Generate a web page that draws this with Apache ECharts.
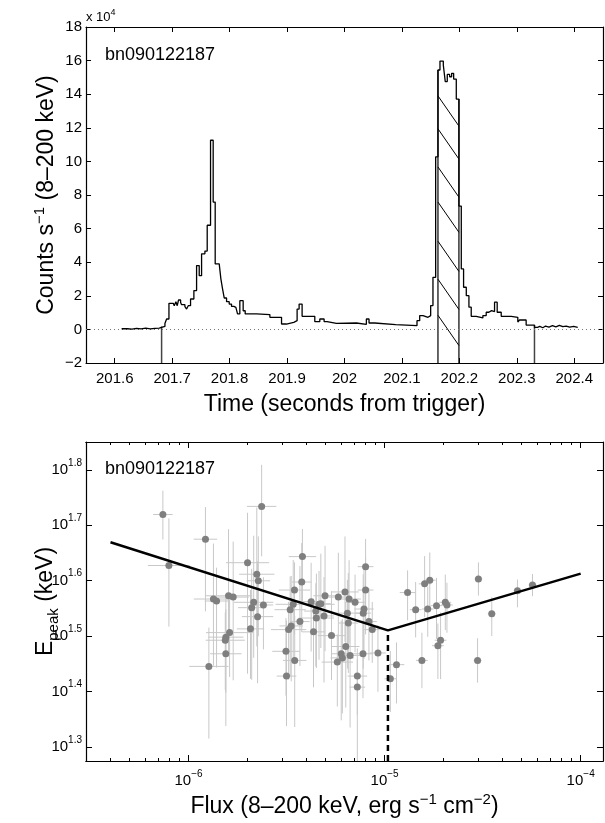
<!DOCTYPE html>
<html><head><meta charset="utf-8">
<script src="https://cdn.jsdelivr.net/npm/echarts@6/dist/echarts.min.js"></script>
<style>html,body{margin:0;padding:0;background:#fff;}#c{width:605px;height:823px;}</style>
</head><body><div id="c"></div>
<script>
// ===== Top panel: light curve (rate in units of 1e4 counts/s) =====
const lcTime = [201.612,201.622,201.630,201.638,201.646,201.654,201.662,201.670,201.6775,201.6816,
 201.6874,201.6903,201.6944,201.7019,201.7036,201.7065,201.7088,201.7111,201.7147,201.7164,
 201.7222,201.7251,201.7280,201.7320,201.7378,201.7425,201.7471,201.7512,201.7570,201.7610,
 201.7668,201.7714,201.7749,201.7819,201.7848,201.7877,201.7906,201.7947,201.7993,201.8033,
 201.8074,201.8109,201.8138,201.8178,201.8236,201.8271,201.8469,201.8701,201.8904,201.8990,
 201.9117,201.9175,201.9210,201.9262,201.9483,201.9570,201.9645,201.9697,201.9859,202.0207,
 202.0381,202.0427,202.0526,202.0891,202.1262,202.1309,202.1367,202.1454,202.1500,202.1540,
 202.1587,202.1627,202.1662,202.1720,202.1754,202.1789,202.1830,202.1865,202.1900,202.1946,
 202.1992,202.2033,202.2073,202.2120,202.2166,202.2206,202.2293,202.2409,202.2467,202.2513,
 202.2560,202.2612,202.2658,202.2728,202.2902,202.3017,202.3046,202.3162,202.3307,202.3360,
 202.3400,202.3452,202.3500,202.3560,202.3620,202.3680,202.3740,202.3800,202.3860,202.3920,
 202.3990,202.4060];
const lcRate = [0.04,0.02,0.06,0.03,0.07,0.03,0.06,0.08,0.12,0.18,
 0.35,0.62,1.55,1.60,1.41,1.65,1.41,1.75,1.60,1.47,
 1.35,1.21,1.41,1.81,2.31,3.80,3.20,4.50,4.66,6.20,
 11.26,7.58,3.90,3.80,3.01,2.41,1.87,1.65,1.51,1.37,
 1.31,1.37,0.92,1.71,1.11,0.92,0.88,0.72,0.32,0.42,
 0.52,1.21,1.51,0.78,0.46,0.62,0.46,0.36,0.38,0.30,
 0.62,0.38,0.28,0.22,0.52,0.82,0.72,0.82,1.42,3.10,
 10.27,15.44,15.97,15.74,14.75,15.18,15.04,15.24,14.90,13.71,
 7.34,3.60,2.51,2.01,1.32,0.78,0.68,0.82,1.02,1.12,
 1.06,1.62,1.02,0.78,0.72,0.44,0.56,0.26,0.12,0.18,
 0.10,0.20,0.14,0.22,0.15,0.24,0.16,0.20,0.13,0.18,
 0.12,0.12];
const timeTicks = [201.6,201.7,201.8,201.9,202.0,202.1,202.2,202.3,202.4];
const bkgBounds = [201.6816, 202.3307];
const bkgTops = [0.18, 0.26];
const srcBounds = [202.1627, 202.1992];
const srcTops = [15.44, 13.71];
const hatchStart = [13.9, 11.94, 9.67, 7.58, 5.25, 2.99, 0.84];
const hatchDrop = 1.8;

// ===== Bottom panel: Epeak vs flux =====
const flux = [7.40e-7,7.94e-7,1.22e-6,2.36e-6,2.00e-6,2.23e-6,2.27e-6,3.81e-6,3.78e-6,3.47e-6,
 4.97e-6,5.81e-6,6.28e-6,1.34e-6,1.39e-6,1.60e-6,1.69e-6,2.15e-6,2.10e-6,2.41e-6,
 2.25e-6,2.07e-6,1.62e-6,1.55e-6,1.54e-6,1.55e-6,1.27e-6,3.42e-6,3.30e-6,3.34e-6,
 3.24e-6,3.70e-6,3.14e-6,3.48e-6,3.16e-6,4.22e-6,4.63e-6,4.73e-6,4.46e-6,4.49e-6,
 4.91e-6,4.34e-6,5.36e-6,6.46e-6,6.53e-6,6.34e-6,6.01e-6,6.09e-6,5.74e-6,6.67e-6,
 6.59e-6,7.07e-6,8.00e-6,8.00e-6,7.85e-6,7.78e-6,8.32e-6,8.65e-6,7.76e-6,9.25e-6,
 7.26e-6,7.26e-6,1.15e-5,1.07e-5,1.31e-5,1.44e-5,1.60e-5,1.70e-5,1.66e-5,1.84e-5,
 2.04e-5,2.08e-5,1.93e-5,1.87e-5,1.55e-5,3.01e-5,3.52e-5,2.98e-5,4.76e-5,5.68e-5];
const epeak = [52.4,42.4,47.3,54.2,42.9,40.9,39.8,44.0,39.6,38.3,
 37.4,37.2,38.0,36.9,36.6,37.4,37.2,36.4,35.6,36.0,
 34.3,32.6,32.1,31.5,31.1,29.4,27.9,36.1,35.3,33.0,
 32.5,33.6,29.7,28.6,26.8,36.5,36.1,36.2,35.1,34.1,
 34.4,32.2,31.7,34.8,33.4,30.3,29.4,28.9,28.4,29.2,
 36.9,36.4,42.2,38.3,35.4,34.8,33.6,32.5,29.4,29.5,
 26.8,25.6,28.1,26.5,37.9,35.3,39.3,39.9,35.4,35.9,
 36.4,36.0,31.1,30.4,28.6,40.1,34.7,28.6,38.2,39.1];
const epErrUp = [0.043,0.085,0.058,0.075,0.09,0.12,0.08,0.05,0.07,0.05,
 0.09,0.08,0.10,0.10,0.06,0.12,0.10,0.12,0.07,0.05,
 0.10,0.07,0.06,0.07,0.05,0.08,0.07,0.08,0.06,0.09,
 0.05,0.10,0.06,0.08,0.10,0.07,0.06,0.09,0.05,0.08,
 0.07,0.06,0.08,0.06,0.09,0.08,0.06,0.07,0.05,0.06,
 0.07,0.05,0.05,0.06,0.08,0.07,0.06,0.05,0.06,0.05,
 0.05,0.05,0.04,0.05,0.04,0.05,0.05,0.05,0.04,0.05,
 0.05,0.04,0.05,0.04,0.05,0.03,0.03,0.04,0.02,0.02];
const epErrDn = [0.045,0.11,0.13,0.09,0.20,0.13,0.10,0.08,0.09,0.08,
 0.10,0.12,0.09,0.12,0.12,0.10,0.15,0.10,0.13,0.08,
 0.12,0.09,0.08,0.10,0.09,0.13,0.13,0.10,0.12,0.10,
 0.09,0.08,0.08,0.12,0.09,0.09,0.10,0.08,0.10,0.09,
 0.12,0.10,0.08,0.10,0.09,0.11,0.12,0.10,0.08,0.13,
 0.08,0.09,0.10,0.08,0.09,0.10,0.07,0.06,0.08,0.07,
 0.07,0.15,0.07,0.06,0.05,0.05,0.06,0.05,0.05,0.06,
 0.05,0.05,0.07,0.06,0.05,0.03,0.04,0.04,0.03,0.02];
const fluxErr = [0.05,0.107,0.06,0.075,0.11,0.09,0.06,0.07,0.05,0.08,
 0.06,0.05,0.07,0.10,0.06,0.12,0.08,0.10,0.07,0.05,
 0.08,0.07,0.12,0.09,0.10,0.08,0.10,0.09,0.08,0.06,
 0.09,0.05,0.07,0.06,0.05,0.07,0.08,0.05,0.06,0.09,
 0.05,0.06,0.07,0.06,0.05,0.07,0.05,0.06,0.08,0.05,
 0.06,0.05,0.04,0.04,0.05,0.04,0.04,0.04,0.05,0.04,
 0.05,0.04,0.04,0.03,0.04,0.03,0.03,0.03,0.03,0.03,
 0.03,0.03,0.03,0.03,0.03,0.02,0.02,0.02,0.02,0.02];
const fitFlux = [4.0e-7, 1.04e-5, 1.0e-4];
const fitEpeak = [46.7, 32.4, 41.0];
const fluxRange = [3e-7, 1.3e-4];
const epeakRange = [18.84, 70.8];
const fluxTickExp = [-6, -5, -4];
const epeakTickExp = [1.3, 1.4, 1.5, 1.6, 1.7, 1.8];
const minorMantissa = [2,3,4,5,6,7,8,9];

// ===== build =====
const L = Math.log10;
const FONT = 'Liberation Sans, Arial, Helvetica, sans-serif';
const minus = s => String(s).replace('-', '\u2212');
const xLo = L(fluxRange[0]), xHi = L(fluxRange[1]);
const yLo = L(epeakRange[0]), yHi = L(epeakRange[1]);
const minorX = [];
[-7,-6,-5,-4].forEach(n => minorMantissa.forEach(m => { const v = n + L(m); if (v > xLo + 0.005 && v < xHi) minorX.push(v); }));

const lcData = lcTime.map((t, i) => [t, lcRate[i]]);
const lcMin = -2, lcMax = 18;

const tickLab = {fontFamily: FONT, fontSize: 15, color: '#000'};
function boxAxis(extra) {
  return Object.assign({
    axisLine: {show: true, onZero: false, lineStyle: {color: '#000', width: 1.2}},
    splitLine: {show: false},
    nameMoveOverlap: false
  }, extra);
}
const supRich = {
  b: {fontFamily: FONT, fontSize: 15, lineHeight: 24, color: '#000'},
  s: {fontFamily: FONT, fontSize: 10, lineHeight: 10, verticalAlign: 'top', color: '#000'}
};

const option = {
  animation: false,
  backgroundColor: '#fff',
  grid: [
    {left: 86, top: 27, width: 517, height: 336, containLabel: false},
    {left: 86, top: 442, width: 517, height: 319, containLabel: false}
  ],
  xAxis: [
    boxAxis({type: 'value', gridIndex: 0, position: 'bottom', min: 201.55, max: 202.45,
      axisTick: {show: true, inside: true, length: 5, customValues: timeTicks, lineStyle: {color: '#000'}},
      axisLabel: Object.assign({show: true, margin: 8, customValues: timeTicks, formatter: v => String(+(+v).toFixed(1))}, tickLab),
      name: 'Time (seconds from trigger)', nameLocation: 'middle', nameGap: 30,
      nameTextStyle: {fontFamily: FONT, fontSize: 23, color: '#000'}}),
    boxAxis({type: 'value', gridIndex: 0, position: 'top', min: 201.55, max: 202.45,
      axisTick: {show: true, inside: true, length: 5, customValues: timeTicks, lineStyle: {color: '#000'}},
      axisLabel: {show: false}}),
    boxAxis({type: 'value', gridIndex: 1, position: 'bottom', min: xLo, max: xHi,
      axisTick: {show: true, inside: true, length: 6, customValues: fluxTickExp, lineStyle: {color: '#000'}},
      axisLabel: {show: true, margin: 8, customValues: fluxTickExp, formatter: v => '{b|10}{s|' + minus(Math.round(v)) + '}', rich: supRich},
      name: '{t|Flux (8\u2013200 keV, erg s}{u|\u22121}{t| cm}{u|\u22122}{t|)}', nameLocation: 'middle', nameGap: 31,
      nameTextStyle: {rich: {
        t: {fontFamily: FONT, fontSize: 23, lineHeight: 30, color: '#000'},
        u: {fontFamily: FONT, fontSize: 15, lineHeight: 15, verticalAlign: 'top', color: '#000'}}}}),
    boxAxis({type: 'value', gridIndex: 1, position: 'bottom', min: xLo, max: xHi,
      axisTick: {show: true, inside: true, length: 3, customValues: minorX, lineStyle: {color: '#000'}},
      axisLabel: {show: false}}),
    boxAxis({type: 'value', gridIndex: 1, position: 'top', min: xLo, max: xHi,
      axisTick: {show: true, inside: true, length: 6, customValues: fluxTickExp, lineStyle: {color: '#000'}},
      axisLabel: {show: false}}),
    boxAxis({type: 'value', gridIndex: 1, position: 'top', min: xLo, max: xHi,
      axisTick: {show: true, inside: true, length: 3, customValues: minorX, lineStyle: {color: '#000'}},
      axisLabel: {show: false}})
  ],
  yAxis: [
    boxAxis({type: 'value', gridIndex: 0, position: 'left', min: lcMin, max: lcMax, interval: 2,
      axisTick: {show: true, inside: true, length: 5, lineStyle: {color: '#000'}},
      axisLabel: Object.assign({show: true, margin: 4, formatter: v => minus(v)}, tickLab),
      name: '{t|Counts s}{u|\u22121}{t| (8\u2013200 keV)}', nameLocation: 'middle', nameGap: 24, nameRotate: 90,
      nameTextStyle: {rich: {
        t: {fontFamily: FONT, fontSize: 23, lineHeight: 30, color: '#000'},
        u: {fontFamily: FONT, fontSize: 15, lineHeight: 15, verticalAlign: 'top', color: '#000'}}}}),
    boxAxis({type: 'value', gridIndex: 0, position: 'right', min: lcMin, max: lcMax, interval: 2,
      axisTick: {show: true, inside: true, length: 5, lineStyle: {color: '#000'}},
      axisLabel: {show: false}}),
    boxAxis({type: 'value', gridIndex: 1, position: 'left', min: yLo, max: yHi,
      axisTick: {show: true, inside: true, length: 6, customValues: epeakTickExp, lineStyle: {color: '#000'}},
      axisLabel: {show: true, margin: 4, customValues: epeakTickExp, formatter: v => '{b|10}{s|' + (+(+v).toFixed(1)) + '}', rich: supRich},
      name: '{t|E}{d|peak}{t| (keV)}', nameLocation: 'middle', nameGap: 25, nameRotate: 90,
      nameTextStyle: {rich: {
        t: {fontFamily: FONT, fontSize: 23, lineHeight: 30, color: '#000'},
        d: {fontFamily: FONT, fontSize: 15, lineHeight: 15, verticalAlign: 'bottom', color: '#000'}}}}),
    boxAxis({type: 'value', gridIndex: 1, position: 'right', min: yLo, max: yHi,
      axisTick: {show: true, inside: true, length: 6, customValues: epeakTickExp, lineStyle: {color: '#000'}},
      axisLabel: {show: false}})
  ],
  graphic: [
    {type: 'text', left: 86, top: 8, style: {text: '{a|x 10}{s|4}', rich: {
      a: {fontFamily: FONT, fontSize: 13, lineHeight: 18, fill: '#000'},
      s: {fontFamily: FONT, fontSize: 9, lineHeight: 9, verticalAlign: 'top', fill: '#000'}}}},
    {type: 'text', left: 105, top: 46, style: {text: 'bn090122187', font: '18px ' + FONT, fill: '#000'}},
    {type: 'text', left: 105, top: 460, style: {text: 'bn090122187', font: '18px ' + FONT, fill: '#000'}}
  ],
  series: [
    // light curve
    {type: 'line', xAxisIndex: 0, yAxisIndex: 0, data: lcData, step: 'end', showSymbol: false, symbol: 'none',
      lineStyle: {color: '#000', width: 1.3}, z: 5,
      markLine: {silent: true, symbol: 'none', label: {show: false},
        lineStyle: {color: '#777', type: [1, 3], width: 1}, data: [{yAxis: 0}]}},
    // background interval bounds
    {type: 'custom', xAxisIndex: 0, yAxisIndex: 0, clip: true, z: 4,
      data: bkgBounds.map((t, i) => [t, lcMin, bkgTops[i]]),
      encode: {x: 0, y: [1, 2]},
      renderItem: (p, api) => {
        const a = api.coord([api.value(0), api.value(1)]), b = api.coord([api.value(0), api.value(2)]);
        return {type: 'line', shape: {x1: a[0], y1: a[1], x2: b[0], y2: b[1]}, style: {stroke: '#444', lineWidth: 1.5}};
      }},
    // source interval bounds
    {type: 'custom', xAxisIndex: 0, yAxisIndex: 0, clip: true, z: 4,
      data: srcBounds.map((t, i) => [t, lcMin, srcTops[i]]),
      encode: {x: 0, y: [1, 2]},
      renderItem: (p, api) => {
        const a = api.coord([api.value(0), api.value(1)]), b = api.coord([api.value(0), api.value(2)]);
        return {type: 'line', shape: {x1: a[0], y1: a[1], x2: b[0], y2: b[1]}, style: {stroke: '#000', lineWidth: 1.2}};
      }},
    // hatching
    {type: 'custom', xAxisIndex: 0, yAxisIndex: 0, clip: true, z: 4,
      data: hatchStart.map(y => [srcBounds[0], srcBounds[1], y, y - hatchDrop]),
      encode: {x: [0, 1], y: [2, 3]},
      renderItem: (p, api) => {
        const a = api.coord([api.value(0), api.value(2)]), b = api.coord([api.value(1), api.value(3)]);
        return {type: 'line', shape: {x1: a[0], y1: a[1], x2: b[0], y2: b[1]}, style: {stroke: '#000', lineWidth: 1}};
      }},
    // error bars
    {type: 'custom', xAxisIndex: 2, yAxisIndex: 2, clip: true, z: 2,
      data: flux.map((f, i) => [L(f), L(epeak[i]), L(f) - fluxErr[i], L(f) + fluxErr[i], L(epeak[i]) - epErrDn[i], L(epeak[i]) + epErrUp[i]]),
      encode: {x: [0, 2, 3], y: [1, 4, 5]},
      renderItem: (p, api) => {
        const x = api.value(0), y = api.value(1);
        const h1 = api.coord([api.value(2), y]), h2 = api.coord([api.value(3), y]);
        const v1 = api.coord([x, api.value(4)]), v2 = api.coord([x, api.value(5)]);
        const st = {stroke: '#c8c8c8', lineWidth: 1};
        return {type: 'group', children: [
          {type: 'line', shape: {x1: h1[0], y1: h1[1], x2: h2[0], y2: h2[1]}, style: st},
          {type: 'line', shape: {x1: v1[0], y1: v1[1], x2: v2[0], y2: v2[1]}, style: st}
        ]};
      }},
    // points
    {type: 'scatter', xAxisIndex: 2, yAxisIndex: 2, z: 3, symbolSize: 7,
      itemStyle: {color: '#7f7f7f', opacity: 1},
      data: flux.map((f, i) => [L(f), L(epeak[i])])},
    // fit
    {type: 'line', xAxisIndex: 2, yAxisIndex: 2, z: 6, showSymbol: false, symbol: 'none',
      lineStyle: {color: '#000', width: 2.5},
      data: fitFlux.map((f, i) => [L(f), L(fitEpeak[i])])},
    {type: 'line', xAxisIndex: 2, yAxisIndex: 2, z: 6, showSymbol: false, symbol: 'none',
      lineStyle: {color: '#000', width: 2.5, type: [6, 4]},
      data: [[L(fitFlux[1]), yLo], [L(fitFlux[1]), L(fitEpeak[1])]]}
  ]
};
const chart = echarts.init(document.getElementById('c'), null, {renderer: 'canvas'});
chart.setOption(option);
</script></body></html>
